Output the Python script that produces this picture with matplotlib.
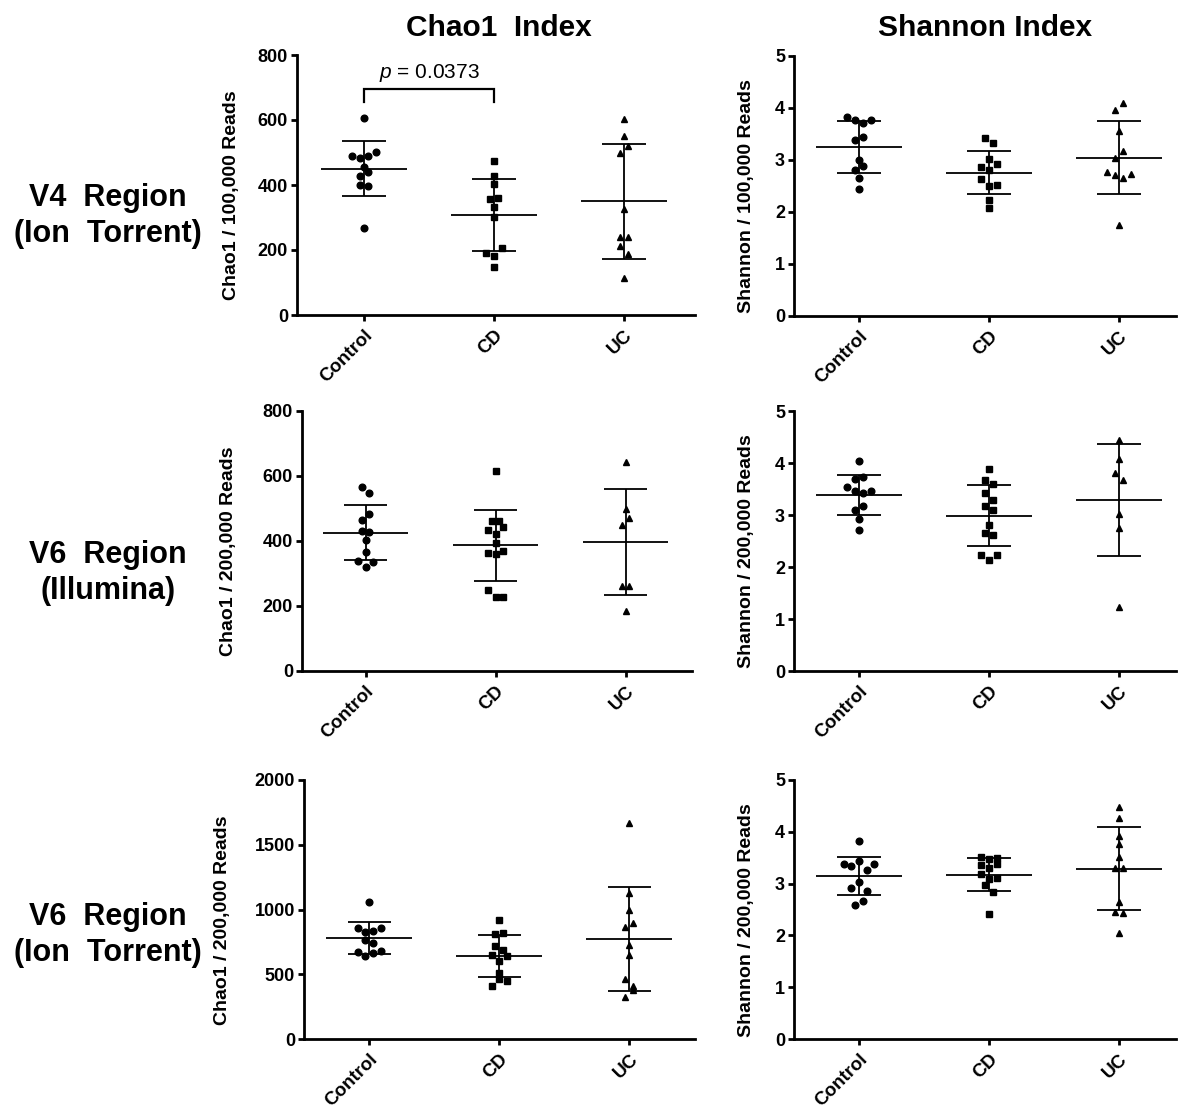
import numpy as np
import matplotlib
matplotlib.use('Agg')
import matplotlib.pyplot as plt

plt.rcParams['font.family'] = ['Liberation Sans', 'DejaVu Sans']
plt.rcParams['mathtext.fontset'] = 'custom'
plt.rcParams['mathtext.rm'] = 'Liberation Sans'
plt.rcParams['mathtext.it'] = 'Liberation Sans:italic'

W, H = 1179, 1109

groups = ['Control', 'CD', 'UC']
markers = ['o', 's', '^']
marker_sizes = [4.8, 4.4, 5.0]

# V4 region (Ion Torrent), rarefied to 100,000 reads
v4_chao_control = [607, 490, 483, 490, 503, 454, 428, 440, 399, 397, 267]
v4_chao_cd = [475, 428, 402, 357, 361, 332, 301, 190, 182, 205, 148]
v4_chao_uc = [602, 550, 500, 520, 327, 241, 241, 211, 188, 113]
v4_shan_control = [3.83, 3.76, 3.71, 3.76, 3.37, 3.43, 2.99, 2.81, 2.88, 2.65, 2.44]
v4_shan_cd = [3.42, 3.32, 3.02, 2.86, 2.80, 2.92, 2.63, 2.49, 2.52, 2.23, 2.07]
v4_shan_uc = [3.96, 4.10, 3.56, 3.03, 3.17, 2.76, 2.70, 2.64, 2.72, 1.75]

# V6 region (Illumina), 200,000 reads
v6i_chao_control = [564, 547, 465, 483, 429, 426, 402, 364, 339, 320, 333]
v6i_chao_cd = [614, 460, 460, 434, 420, 442, 392, 362, 358, 369, 247, 226, 227]
v6i_chao_uc = [641, 497, 448, 471, 261, 261, 184]
v6i_shan_control = [4.03, 3.70, 3.73, 3.54, 3.47, 3.42, 3.47, 3.09, 3.17, 2.93, 2.72]
v6i_shan_cd = [3.89, 3.67, 3.60, 3.42, 3.29, 3.17, 3.09, 2.81, 2.65, 2.62, 2.24, 2.13, 2.23]
v6i_shan_uc = [4.45, 4.08, 3.81, 3.67, 3.01, 2.75, 1.24]

# V6 region (Ion Torrent), 200,000 reads
v6t_chao_control = [1057, 859, 830, 836, 859, 764, 746, 676, 643, 666, 679]
v6t_chao_cd = [920, 810, 823, 720, 689, 653, 602, 640, 514, 411, 465, 450]
v6t_chao_uc = [1671, 1131, 995, 869, 897, 730, 650, 468, 411, 324, 381]
v6t_shan_control = [3.82, 3.37, 3.34, 3.43, 3.27, 3.37, 2.91, 3.04, 2.86, 2.59, 2.66]
v6t_shan_cd = [3.51, 3.48, 3.49, 3.35, 3.31, 3.37, 3.18, 3.08, 3.10, 2.98, 2.84, 2.41]
v6t_shan_uc = [4.48, 4.27, 3.92, 3.76, 3.52, 3.31, 3.30, 2.65, 2.46, 2.44, 2.04]

chao_ticks_800 = [0, 200, 400, 600, 800]
chao_ticks_2000 = [0, 500, 1000, 1500, 2000]
shan_ticks = [0, 1, 2, 3, 4, 5]

p_text = '$p$ = 0.0373'
p_bracket = (695, 654)

# (data, yticks, ylabel, box in px: left, top, right, bottom, first category px, ylabel x px)
panels = [
    ((v4_chao_control, v4_chao_cd, v4_chao_uc), chao_ticks_800, 'Chao1 / 100,000 Reads',
     (297, 55, 695, 315), 364, 240),
    ((v4_shan_control, v4_shan_cd, v4_shan_uc), shan_ticks, 'Shannon / 100,000 Reads',
     (794, 55.7, 1176, 315.7), 859, 755),
    ((v6i_chao_control, v6i_chao_cd, v6i_chao_uc), chao_ticks_800, 'Chao1 / 200,000 Reads',
     (302, 410.7, 692, 670.7), 365.5, 237),
    ((v6i_shan_control, v6i_shan_cd, v6i_shan_uc), shan_ticks, 'Shannon / 200,000 Reads',
     (794, 411, 1176, 671), 859, 755),
    ((v6t_chao_control, v6t_chao_cd, v6t_chao_uc), chao_ticks_2000, 'Chao1 / 200,000 Reads',
     (304, 780, 695, 1039.3), 369.3, 231),
    ((v6t_shan_control, v6t_shan_cd, v6t_shan_uc), shan_ticks, 'Shannon / 200,000 Reads',
     (794, 780, 1176, 1039), 859, 755),
]


def swarm_offsets(vals, tol, step):
    # points close in value share a row and are spread side by side
    offs = np.zeros(len(vals))
    rows = []
    for i, v in enumerate(vals):
        if rows and abs(v - vals[rows[-1][0]]) <= tol:
            rows[-1].append(i)
        else:
            rows.append([i])
    for r in rows:
        n = len(r)
        for k, i in enumerate(r):
            offs[i] = (k - (n - 1) / 2) * step
    return offs


fig = plt.figure(figsize=(W / 100, H / 100), dpi=100)

for idx, (data, yticks, ylabel, box, c0, ylab_x) in enumerate(panels):
    l, t, r, b = box
    ax = fig.add_axes([l / W, 1 - b / H, (r - l) / W, (b - t) / H])
    spacing = 130.0
    ax.set_xlim((l - c0) / spacing, (r - c0) / spacing)
    ymax = yticks[-1]
    ax.set_ylim(0, ymax)

    for i, vals in enumerate(data):
        vals = np.array(vals, dtype=float)
        offs = swarm_offsets(vals, 0.03 * ymax, 0.059)
        ax.plot(i + offs, vals, ls='none', marker=markers[i], ms=marker_sizes[i],
                color='black', mec='black', clip_on=False, zorder=3)
        m = vals.mean()
        sd = vals.std(ddof=1)
        ax.hlines(m, i - 0.33, i + 0.33, color='black', lw=1.3, zorder=2)
        ax.vlines(i, m - sd, m + sd, color='black', lw=1.3, zorder=2)
        ax.hlines([m - sd, m + sd], i - 0.167, i + 0.167, color='black', lw=1.3, zorder=2)

    ax.set_yticks(yticks)
    ax.set_xticks([0, 1, 2])
    ax.set_xticklabels(groups, rotation=45, ha='right', va='top',
                       rotation_mode='anchor', fontsize=13.5, fontweight='bold')
    for lab in ax.get_yticklabels():
        lab.set_fontweight('bold')
    ax.tick_params(axis='both', direction='out', width=2, length=4, labelsize=13, pad=2.5)
    ax.tick_params(axis='x', pad=4.5, labelsize=13.5)
    for s in ['top', 'right']:
        ax.spines[s].set_visible(False)
    for s in ['left', 'bottom']:
        ax.spines[s].set_linewidth(2)
    ax.set_ylabel(ylabel, fontsize=14, fontweight='bold')
    ax.yaxis.set_label_coords((ylab_x - l) / (r - l), 0.46)
    ax.patch.set_alpha(0)

    if idx == 0:
        top, leg = p_bracket
        ax.plot([0, 0, 1, 1], [leg, top, top, leg], color='black', lw=1.6,
                solid_joinstyle='miter', zorder=3)
        ax.annotate(p_text, xy=(0.5, top), xytext=(0, 4), textcoords='offset points',
                    ha='center', va='bottom', fontsize=15, fontweight='normal')

# column titles
fig.text(499 / W, 1 - 36 / H, 'Chao1  Index', ha='center', va='baseline',
         fontsize=21.5, fontweight='bold')
fig.text(985 / W, 1 - 36 / H, 'Shannon Index', ha='center', va='baseline',
         fontsize=21.5, fontweight='bold')

# row labels
row_labels = [('V4  Region', '(Ion  Torrent)', 206), ('V6  Region', '(Illumina)', 563),
              ('V6  Region', '(Ion  Torrent)', 925)]
for line1, line2, base in row_labels:
    fig.text(108 / W, 1 - base / H, line1, ha='center', va='baseline',
             fontsize=22, fontweight='bold')
    fig.text(108 / W, 1 - (base + 36) / H, line2, ha='center', va='baseline',
             fontsize=22, fontweight='bold')

fig.savefig('out.png', dpi=100)
